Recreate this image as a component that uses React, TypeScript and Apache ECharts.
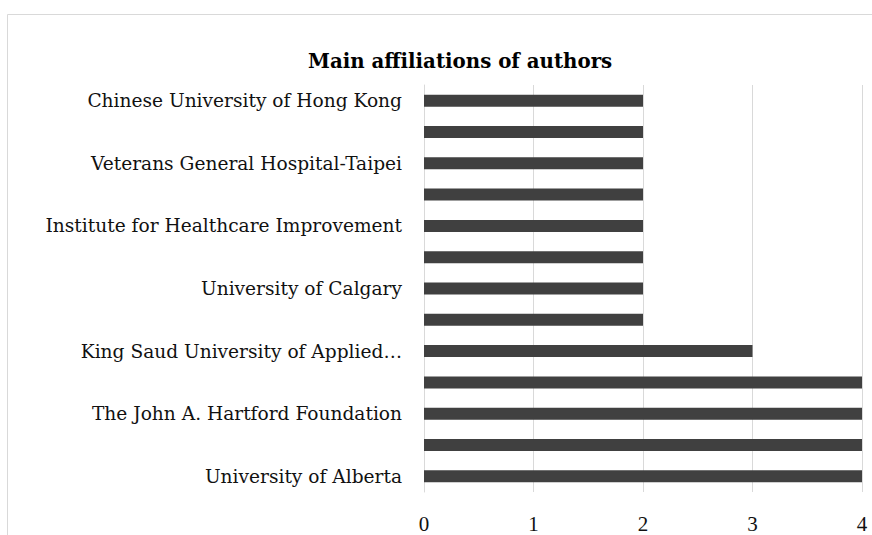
import React, { useEffect, useRef } from "react";
import * as echarts from "echarts";

const categories = [
  "Chinese University of Hong Kong",
  "(unlabelled 1)",
  "Veterans General Hospital-Taipei",
  "(unlabelled 2)",
  "Institute for Healthcare Improvement",
  "(unlabelled 3)",
  "University of Calgary",
  "(unlabelled 4)",
  "King Saud University of Applied…",
  "(unlabelled 5)",
  "The John A. Hartford Foundation",
  "(unlabelled 6)",
  "University of Alberta",
];
const values = [2, 2, 2, 2, 2, 2, 2, 2, 3, 4, 4, 4, 4];
const xTicks = [0, 1, 2, 3, 4];
const titleText = "Main affiliations of authors";

const FONT = "'DejaVu Serif', 'Liberation Serif', serif";
const TICKFONT = "'Liberation Serif', 'DejaVu Serif', serif";

export default function App() {
  const ref = useRef<HTMLDivElement>(null);
  useEffect(() => {
    if (!ref.current) return;
    const chart = echarts.init(ref.current, undefined, { renderer: "svg" });
    chart.setOption({
      animation: false,
      backgroundColor: "#ffffff",
      title: {
        text: titleText,
        left: 303,
        top: 46,
        textStyle: { fontFamily: FONT, fontSize: 19.8, fontWeight: "bold", color: "#000" },
      },
      graphic: [
        {
          type: "rect",
          shape: { x: 7.5, y: 14.5, width: 900, height: 600 },
          style: { fill: "none", stroke: "#d9d9d9", lineWidth: 1 },
          silent: true,
        },
      ],
      grid: { left: 424, right: 10, top: 85, bottom: 43, containLabel: false },
      xAxis: {
        type: "value",
        min: xTicks[0],
        max: xTicks[xTicks.length - 1],
        interval: 1,
        axisLine: { show: false },
        axisTick: { show: false },
        splitLine: { show: true, lineStyle: { color: "#d9d9d9", width: 1 } },
        axisLabel: {
          margin: 21,
          fontFamily: TICKFONT,
          fontSize: 21,
          color: "#111",
          formatter: (v: number) => (xTicks.includes(v) ? String(v) : ""),
        },
      },
      yAxis: {
        type: "category",
        data: categories,
        inverse: true,
        axisLine: { show: true, lineStyle: { color: "#d9d9d9" } },
        axisTick: { show: false },
        axisLabel: {
          interval: 1,
          margin: 22,
          fontFamily: FONT,
          fontSize: 18.6,
          color: "#111",
        },
      },
      series: [
        {
          type: "bar",
          data: values,
          barWidth: 12,
          itemStyle: { color: "#404040" },
        },
      ],
    });
    return () => chart.dispose();
  }, []);
  return (
    <div
      ref={ref}
      style={{ position: "fixed", left: 0, top: 0, width: 872, height: 535 }}
    />
  );
}
